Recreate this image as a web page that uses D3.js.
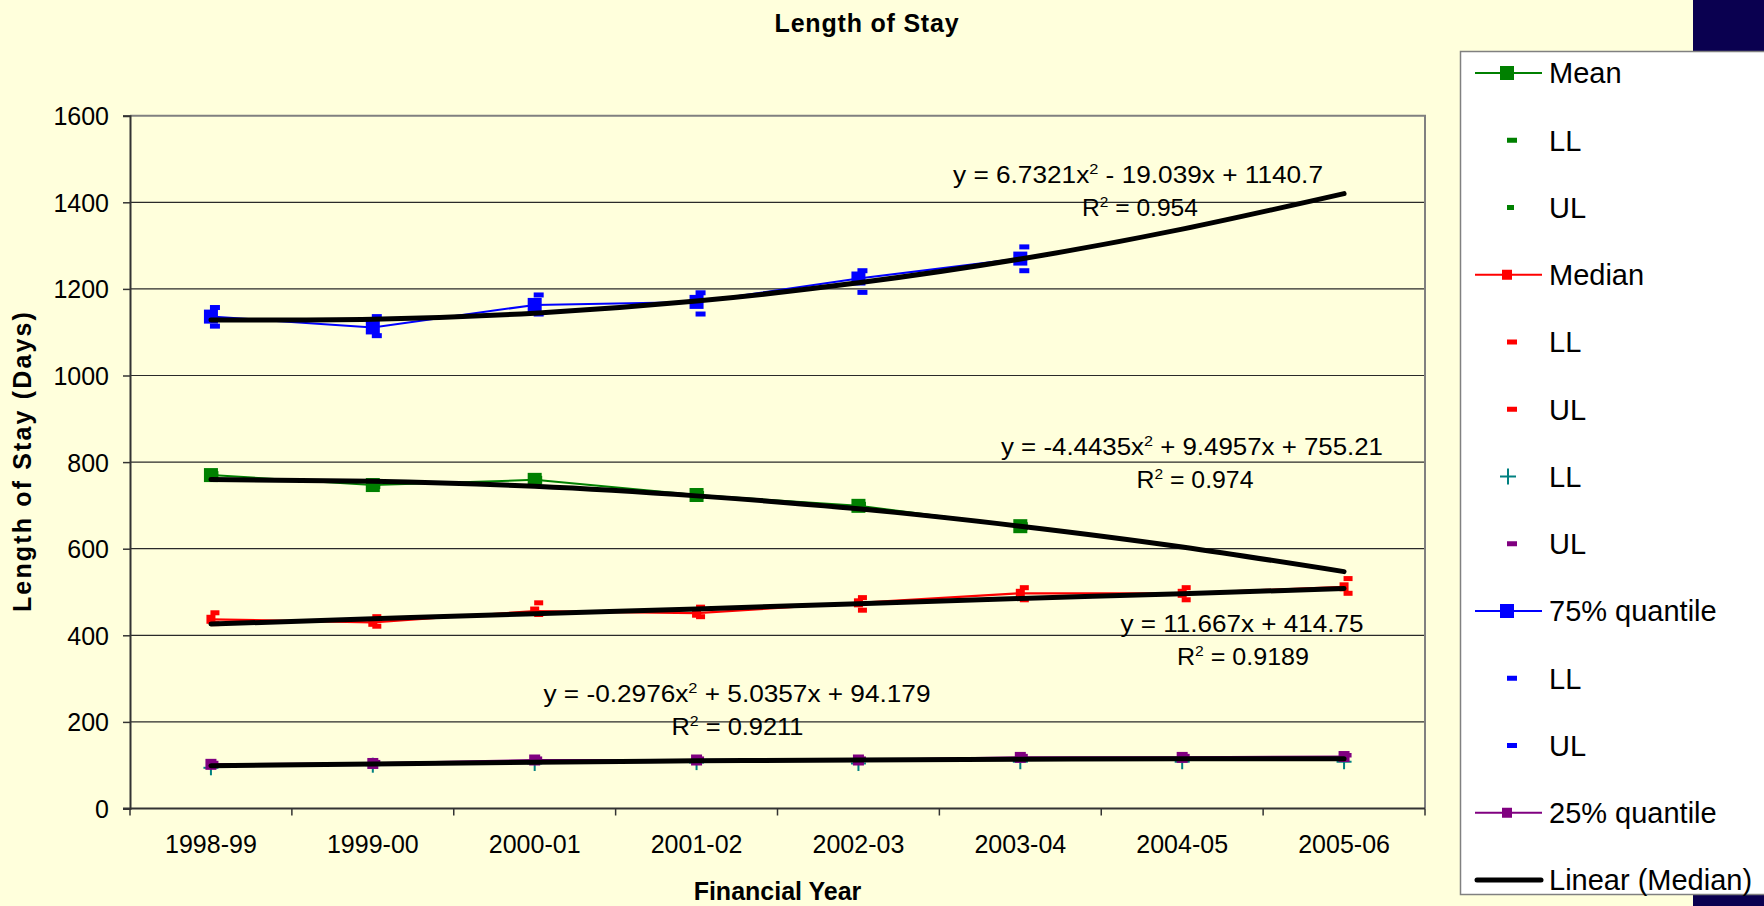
<!DOCTYPE html>
<html><head><meta charset="utf-8">
<script src="https://cdn.jsdelivr.net/npm/d3@7"></script>
<style>
html,body{margin:0;padding:0;background:#FFFFDC;}
svg{display:block;font-family:"Liberation Sans",Arial,sans-serif;}
</style>
</head><body>
<svg id="chart" width="1764" height="906"></svg>
<script>
// ---------- data ----------
const categories = ["1998-99","1999-00","2000-01","2001-02","2002-03","2003-04","2004-05","2005-06"];
const meanVals   = [770, 747, 759, 724, 699, 652, null, null];
const meanLL     = [766, 743, 755, 720, 695, 648, null, null];
const meanUL     = [774, 751, 763, 728, 703, 656, null, null];
const medianVals = [437, 430, 456, 451, 475, 497, 497, 512];
const medianLL   = [427, 421, 448, 443, 458, 482, 482, 497];
const medianUL   = [452, 443, 475, 465, 487, 510, 510, 531];
const q75Vals    = [1136, 1111, 1163, 1170, 1224, 1270, null, null];
const q75LL      = [1114, 1092, 1142, 1142, 1192, 1242, null, null];
const q75UL      = [1157, 1136, 1186, 1191, 1242, 1297, null, null];
const q25Vals    = [102, 104, 112, 112, 112, 118, 118, 120];
const q25LL      = [94, 100, 104, 106, 104, 108, 108, 108];
const q25UL      = [105, 107, 115, 115, 115, 121, 121, 123];
// trend lines (values read at each category; they follow the printed equations)
const q75Trend    = [1128, 1130, 1144, 1172, 1214, 1269, 1338, 1420];
const meanTrend   = [760, 756, 744, 722, 692, 652, 604, 547];
const medianTrend = [426, 438, 450, 461, 473, 485, 496, 508];
const q25Trend    = [99, 103, 107, 110, 112, 114, 115, 115];
const yTicks = [0, 200, 400, 600, 800, 1000, 1200, 1400, 1600];
const legendLabels = ["Mean","LL","UL","Median","LL","UL","LL","UL","75% quantile","LL","UL","25% quantile","Linear (Median)"];
const eqTexts = ["y = 6.7321x² - 19.039x + 1140.7","R² = 0.954",
                 "y = -4.4435x² + 9.4957x + 755.21","R² = 0.974",
                 "y = 11.667x + 414.75","R² = 0.9189",
                 "y = -0.2976x² + 5.0357x + 94.179","R² = 0.9211"];
const chartTitle = "Length of Stay";
const xTitle = "Financial Year";
const yTitle = "Length of Stay (Days)";

// ---------- layout ----------
const svg = d3.select("#chart");
const L = 130, R = 1425, T = 115.7, B = 808.5;
const x = d3.scaleBand().domain(categories).range([L, R]).padding(0);
const cx = c => x(c) + x.bandwidth() / 2;
const y = d3.scaleLinear().domain([0, 1600]).range([B, T]);

const C = {green:"#008000", red:"#FF0000", blue:"#0000FF", purple:"#800080", teal:"#008080"};

// background
svg.append("rect").attr("width",1764).attr("height",906).attr("fill","#FFFFDC");

// gridlines
svg.append("g").selectAll("line").data(yTicks.filter(v => v > 0 && v < 1600)).join("line")
  .attr("x1", L).attr("x2", R).attr("y1", d => y(d)).attr("y2", d => y(d))
  .attr("stroke", "#2a2a2a").attr("stroke-width", 1.2);
// plot border top/right (grey)
svg.append("path").attr("d", `M${L},${y(1600)}H${R}V${B}`).attr("fill","none")
  .attr("stroke","#808080").attr("stroke-width",2);

// y axis
const yAxis = d3.axisLeft(y).tickValues(yTicks).tickSize(7).tickPadding(14).tickFormat(d3.format("d"));
const gy = svg.append("g").attr("transform", `translate(${L},0)`).call(yAxis);
gy.select(".domain").attr("stroke","#333").attr("stroke-width",2);
gy.selectAll(".tick line").attr("stroke","#333").attr("stroke-width",1.5);
gy.selectAll(".tick text").attr("font-size",25).attr("fill","#000")
  .attr("font-family","'Liberation Sans',Arial,sans-serif").attr("dy","0.36em");

// x axis: labels centered, ticks at band edges
const xAxis = d3.axisBottom(x).tickSize(0).tickPadding(27);
const gx = svg.append("g").attr("transform", `translate(0,${B})`).call(xAxis);
gx.select(".domain").remove();
gx.selectAll(".tick text").attr("font-size",25).attr("fill","#000")
  .attr("font-family","'Liberation Sans',Arial,sans-serif");
svg.append("line").attr("x1",L-7).attr("x2",R).attr("y1",B).attr("y2",B)
  .attr("stroke","#333").attr("stroke-width",2);
svg.append("g").selectAll("line").data(categories.map(c => x(c)).concat([R])).join("line")
  .attr("x1", d => d).attr("x2", d => d).attr("y1", B).attr("y2", B + 7)
  .attr("stroke","#333").attr("stroke-width",1.5);

// titles
svg.append("text").attr("x", 867).attr("y", 32).attr("text-anchor","middle")
  .attr("font-size",25).attr("font-weight","bold").attr("letter-spacing",0.8).text(chartTitle);
svg.append("text").attr("x", (L+R)/2).attr("y", 900).attr("text-anchor","middle")
  .attr("font-size",25).attr("font-weight","bold").text(xTitle);
svg.append("text").attr("transform", `translate(31,${(T+B)/2}) rotate(-90)`).attr("text-anchor","middle")
  .attr("font-size",25).attr("font-weight","bold")
  .attr("textLength",300).attr("lengthAdjust","spacing").text(yTitle);

// ---------- series ----------
const pts = arr => categories.map((c,i) => ({c, v: arr[i]})).filter(d => d.v != null);
const lineGen = d3.line().x(d => cx(d.c)).y(d => y(d.v));
const series = [
  {vals: meanVals,   color: C.green,  w: 2},
  {vals: medianVals, color: C.red,    w: 2.2},
  {vals: q75Vals,    color: C.blue,   w: 2},
  {vals: q25Vals,    color: C.purple, w: 2.2}
];
series.forEach(s => {
  svg.append("path").datum(pts(s.vals)).attr("d", lineGen).attr("fill","none")
    .attr("stroke", s.color).attr("stroke-width", s.w);
});

function squares(arr, color, size) {
  svg.append("g").selectAll("rect").data(pts(arr)).join("rect")
    .attr("x", d => cx(d.c) - size/2).attr("y", d => y(d.v) - size/2)
    .attr("width", size).attr("height", size).attr("fill", color);
}
function dashes(arr, color, w, h, off) {
  svg.append("g").selectAll("rect").data(pts(arr)).join("rect")
    .attr("x", d => cx(d.c) - w/2 + off).attr("y", d => y(d.v) - h/2)
    .attr("width", w).attr("height", h).attr("fill", color);
}
function pluses(arr, color, size) {
  const g = svg.append("g").attr("stroke", color).attr("stroke-width", 2);
  pts(arr).forEach(d => {
    const px = cx(d.c), py = y(d.v);
    g.append("line").attr("x1", px - size/2).attr("x2", px + size/2).attr("y1", py).attr("y2", py);
    g.append("line").attr("x1", px).attr("x2", px).attr("y1", py - size/2).attr("y2", py + size/2);
  });
}
// markers
squares(meanVals, C.green, 14);
dashes(meanLL, C.green, 9, 4.5, 3);
dashes(meanUL, C.green, 9, 4.5, 3);
squares(medianVals, C.red, 9);
dashes(medianLL, C.red, 9, 5, 4);
dashes(medianUL, C.red, 9, 5, 4);
pluses(q25LL, C.teal, 15);
dashes(q25UL, C.purple, 9, 4.5, 3);
squares(q75Vals, C.blue, 14);
dashes(q75LL, C.blue, 10, 5, 4);
dashes(q75UL, C.blue, 10, 5, 4);
squares(q25Vals, C.purple, 11);

// ---------- trend lines ----------
const trendGen = d3.line().x(d => cx(d.c)).y(d => y(d.v)).curve(d3.curveNatural);
[q75Trend, meanTrend, medianTrend, q25Trend].forEach(t => {
  svg.append("path").datum(pts(t)).attr("d", trendGen).attr("fill","none")
    .attr("stroke","#000").attr("stroke-width",5).attr("stroke-linecap","round").attr("stroke-linejoin","round");
});

// equation labels
const eqLayout = [
  {cx:1138, by:183, len:370}, {cx:1140, by:216, len:116},
  {cx:1192, by:455, len:382}, {cx:1195, by:488, len:117},
  {cx:1242, by:632, len:243}, {cx:1243, by:665, len:132},
  {cx:737,  by:702, len:387}, {cx:737.5, by:735, len:132}
];
eqTexts.forEach((t, i) => {
  const p = eqLayout[i];
  const txt = svg.append("text").attr("x", p.cx).attr("y", p.by).attr("text-anchor","middle")
    .attr("font-size", 24).attr("fill","#000")
    .attr("textLength", p.len).attr("lengthAdjust","spacingAndGlyphs");
  const parts = t.split("²");
  txt.append("tspan").text(parts[0]);
  if (parts.length > 1) {
    txt.append("tspan").attr("dy", -9).attr("font-size", 15).text("2");
    txt.append("tspan").attr("dy", 9).text(parts[1]);
  }
});

// ---------- decorations ----------
svg.append("rect").attr("x",1693).attr("y",0).attr("width",71).attr("height",52).attr("fill","#0A0050");
svg.append("rect").attr("x",1693).attr("y",894).attr("width",71).attr("height",12).attr("fill","#0A0050");

// ---------- legend ----------
const lg = svg.append("g");
lg.append("rect").attr("x",1460.5).attr("y",51.5).attr("width",320).attr("height",843)
  .attr("fill","#FFFFFF").attr("stroke","#808080").attr("stroke-width",1.5);
const legendStyle = [
  {type:"line", color:C.green, sq:14},
  {type:"dash", color:C.green, w:10},
  {type:"dash", color:C.green, w:7},
  {type:"line", color:C.red, sq:10},
  {type:"dash", color:C.red, w:10},
  {type:"dash", color:C.red, w:10},
  {type:"plus", color:C.teal},
  {type:"dash", color:C.purple, w:10},
  {type:"line", color:C.blue, sq:14},
  {type:"dash", color:C.blue, w:10},
  {type:"dash", color:C.blue, w:10},
  {type:"line", color:C.purple, sq:10},
  {type:"trend", color:"#000"}
];
const ly = d3.scaleLinear().domain([0, legendLabels.length - 1]).range([73, 880]);
legendLabels.forEach((lab, i) => {
  const s = legendStyle[i], yy = ly(i);
  if (s.type === "line") {
    lg.append("line").attr("x1",1475).attr("x2",1542).attr("y1",yy).attr("y2",yy)
      .attr("stroke",s.color).attr("stroke-width",2);
    lg.append("rect").attr("x",1507-s.sq/2).attr("y",yy-s.sq/2).attr("width",s.sq).attr("height",s.sq).attr("fill",s.color);
  } else if (s.type === "dash") {
    lg.append("rect").attr("x",1507).attr("y",yy-2.5).attr("width",s.w).attr("height",5).attr("fill",s.color);
  } else if (s.type === "plus") {
    lg.append("line").attr("x1",1500).attr("x2",1516).attr("y1",yy).attr("y2",yy).attr("stroke",s.color).attr("stroke-width",2);
    lg.append("line").attr("x1",1508).attr("x2",1508).attr("y1",yy-8).attr("y2",yy+8).attr("stroke",s.color).attr("stroke-width",2);
  } else {
    lg.append("line").attr("x1",1477).attr("x2",1541).attr("y1",yy).attr("y2",yy)
      .attr("stroke","#000").attr("stroke-width",5).attr("stroke-linecap","round");
  }
  lg.append("text").attr("x",1549).attr("y",yy).attr("dy","0.36em").attr("font-size",29)
    .attr("fill","#000").text(lab);
});
</script>
</body></html>
